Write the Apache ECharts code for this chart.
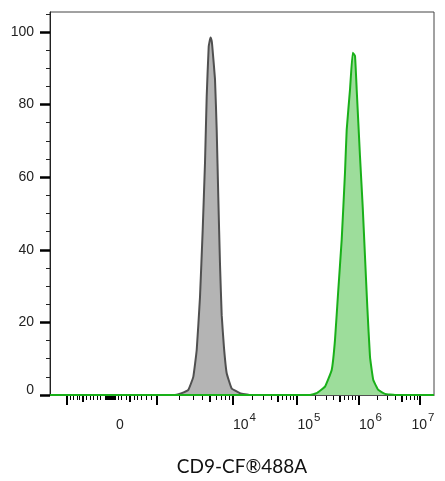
<!DOCTYPE html>
<html><head><meta charset="utf-8">
<script src="https://cdn.jsdelivr.net/npm/echarts@6/dist/echarts.min.js"></script>
<style>html,body{margin:0;padding:0;background:#fff}#c{width:445px;height:481px}</style>
</head><body><div id="c"></div>
<script>
// x in display channels (biexponential display scale, 0..384 across the plot)
const grayX  = [0, 125, 131.7, 138.3, 143.3, 146.7, 150, 152.7, 155, 156.7, 158.7, 160.5, 161.7, 162.3, 165, 166.7, 168.3, 170, 171.7, 174, 176.7, 181.7, 190, 200, 384];
const grayY  = [0, 0, 0.5, 1.4, 5, 12.4, 27, 45.5, 64, 82.3, 96, 98.5, 97.5, 96, 87, 73, 54.5, 36, 22, 13, 6, 1.8, 0.5, 0, 0];
const greenX = [0, 260, 266.7, 275, 281.7, 285, 288.3, 291.7, 295, 296.7, 300, 302.7, 305, 306.7, 310, 312.7, 315, 317.3, 320, 323.3, 328.3, 335, 345, 384];
const greenY = [0, 0, 0.5, 2.3, 6.9, 15.2, 29, 42.8, 61.3, 73.1, 84.1, 94.3, 93.4, 84.1, 65.7, 51.9, 38.1, 24.3, 10.5, 4.1, 1.4, 0.3, 0, 0];

// axis ticks (display channels)
const xMajorTicks  = [16.7, 106.7, 182.7, 246.5, 308.3, 370];
const xMediumTicks = [32.7, 80, 159.8, 227.3, 289.7, 351.4];
const xMinorTicks  = [20, 23.3, 27.3, 29.3, 36.7, 40, 43.3, 47, 50, 55, 56, 57, 58, 59, 60, 61, 62, 63, 64, 65, 68.3, 71.7, 76, 84, 87.3, 91.7, 96, 101.7,
  129.6, 143, 152.5, 165.8, 170.9, 175.3, 179.2,
  201.9, 213.1, 221.1, 232.3, 236.6, 240.3, 243.6,
  265.1, 276, 283.7, 294.6, 298.7, 302.3, 305.5,
  326.9, 337.7, 345.4, 356.3, 360.4, 364, 367.2];
const xLabelPos  = [70, 194.5, 259, 320.5, 373];
const xLabelText = ['0', '4', '5', '6', '7'];
const yMajorTicks = [0, 20, 40, 60, 80, 100];
const yMinorTicks = [5, 10, 15, 25, 30, 35, 45, 50, 55, 65, 70, 75, 85, 90, 95, 105];
const xTitle = 'CD9-CF®488A';

const chart = echarts.init(document.getElementById('c'), null, {renderer: 'canvas'});
const X_MAX = 384, Y_MAX = 105.5;
const pair = (xs, ys) => xs.map((x, i) => [x, ys[i]]);
const baseX = {type: 'value', min: 0, max: X_MAX, gridIndex: 0, position: 'bottom',
  splitLine: {show: false}, axisLine: {show: false}, axisLabel: {show: false}};
const baseY = {type: 'value', min: 0, max: Y_MAX, gridIndex: 0, position: 'left',
  splitLine: {show: false}, axisLine: {show: false}, axisLabel: {show: false}};

chart.setOption({
  animation: false,
  grid: {left: 50, right: 11, top: 12, bottom: 86, outerBoundsMode: 'none', containLabel: false,
    show: true, borderColor: '#444', borderWidth: 1, backgroundColor: '#fff'},
  xAxis: [
    Object.assign({}, baseX, {
      axisLine: {show: true, onZero: false, lineStyle: {color: '#222', width: 1}},
      axisTick: {show: true, customValues: xMajorTicks, length: 10, lineStyle: {color: '#000', width: 2}},
      axisLabel: {show: true, customValues: xLabelPos, margin: 19, hideOverlap: false,
        formatter: (v) => {
          const i = xLabelPos.indexOf(v);
          const t = xLabelText[i];
          return t === '0' ? '{b|0}' : '{b|10}{s|' + t + '}';
        },
        rich: {
          b: {fontFamily: 'Liberation Sans', fontSize: 14, color: '#222', lineHeight: 16, padding: [6, 0, 0, 0]},
          s: {fontFamily: 'Liberation Sans', fontSize: 11.5, color: '#222', lineHeight: 13, padding: [0, 0, 9, 1]}
        }
      },
      name: xTitle, nameLocation: 'middle', nameGap: 62,
      nameTextStyle: {fontFamily: 'Lato', fontSize: 19, color: '#111'}
    }),
    Object.assign({}, baseX, {axisTick: {show: true, customValues: xMediumTicks, length: 7, lineStyle: {color: '#000', width: 2}}}),
    Object.assign({}, baseX, {axisTick: {show: true, customValues: xMinorTicks, length: 5, lineStyle: {color: '#000', width: 1}}})
  ],
  yAxis: [
    Object.assign({}, baseY, {
      axisLine: {show: true, onZero: false, lineStyle: {color: '#222', width: 1}},
      axisTick: {show: true, customValues: yMajorTicks, length: 10, lineStyle: {color: '#000', width: 2.5}},
      axisLabel: {show: true, customValues: yMajorTicks, margin: 16, hideOverlap: false,
        formatter: (v) => v === 0 ? '{z|0}' : '{n|' + v + '}',
        rich: {
          n: {fontFamily: 'Liberation Sans', fontSize: 14, color: '#222'},
          z: {fontFamily: 'Liberation Sans', fontSize: 14, color: '#222', padding: [0, 0, 10, 0]}
        }
      }
    }),
    Object.assign({}, baseY, {axisTick: {show: true, customValues: yMinorTicks, length: 4, lineStyle: {color: '#222', width: 1}}})
  ],
  series: [
    {type: 'line', xAxisIndex: 0, yAxisIndex: 0, data: pair(grayX, grayY), symbol: 'none', smooth: 0.1,
      lineStyle: {color: '#505050', width: 2}, areaStyle: {color: '#b4b4b4', opacity: 1}, z: 3},
    {type: 'line', xAxisIndex: 0, yAxisIndex: 0, data: pair(greenX, greenY), symbol: 'none', smooth: 0.1,
      lineStyle: {color: '#19b019', width: 2}, areaStyle: {color: '#9ddd9b', opacity: 1}, z: 4}
  ]
});
</script></body></html>
